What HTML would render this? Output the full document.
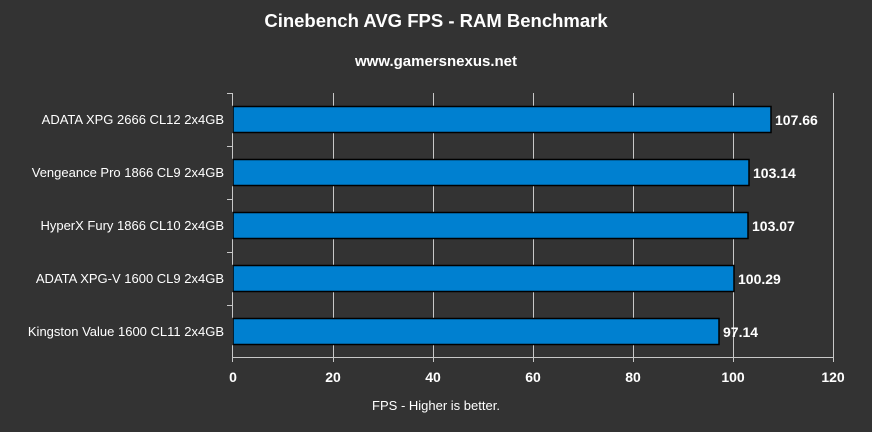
<!DOCTYPE html><html><head><style>body{margin:0;background:#333}</style></head><body>
<svg width="872" height="427" xmlns="http://www.w3.org/2000/svg" font-family="Liberation Sans, Arial, sans-serif">
<rect width="872" height="427" fill="#333"/>
<text x="436" y="27" fill="#fff" font-size="18.5" font-weight="bold" text-anchor="middle">Cinebench AVG FPS - RAM Benchmark</text>
<text x="436" y="66" fill="#fff" font-size="15" font-weight="bold" text-anchor="middle">www.gamersnexus.net</text>
<g stroke="#c8c8c8" stroke-width="1">
<line x1="333.5" y1="93" x2="333.5" y2="357"/><line x1="433.5" y1="93" x2="433.5" y2="357"/><line x1="533.5" y1="93" x2="533.5" y2="357"/><line x1="633.5" y1="93" x2="633.5" y2="357"/><line x1="733.5" y1="93" x2="733.5" y2="357"/><line x1="833.5" y1="93" x2="833.5" y2="357"/>
<line x1="232.5" y1="93" x2="232.5" y2="362"/><line x1="232" y1="357.5" x2="834" y2="357.5"/>
<line x1="227" y1="93.5" x2="233" y2="93.5"/><line x1="227" y1="146.5" x2="233" y2="146.5"/><line x1="227" y1="199.5" x2="233" y2="199.5"/><line x1="227" y1="252.5" x2="233" y2="252.5"/><line x1="227" y1="305.5" x2="233" y2="305.5"/>
<line x1="333.5" y1="357" x2="333.5" y2="362"/><line x1="433.5" y1="357" x2="433.5" y2="362"/><line x1="533.5" y1="357" x2="533.5" y2="362"/><line x1="633.5" y1="357" x2="633.5" y2="362"/><line x1="733.5" y1="357" x2="733.5" y2="362"/><line x1="833.5" y1="357" x2="833.5" y2="362"/>
</g>
<g fill="#0080d0" stroke="#000" stroke-width="1.5">
<rect x="233" y="106.5" width="538" height="26"/>
<rect x="233" y="159.5" width="516" height="26"/>
<rect x="233" y="212.5" width="515" height="26"/>
<rect x="233" y="265.5" width="501" height="26"/>
<rect x="233" y="318.5" width="486" height="26"/>
</g>
<g fill="#fff" font-size="14" font-weight="bold">
<text x="775" y="125">107.66</text><text x="753" y="178">103.14</text><text x="752" y="231">103.07</text><text x="738" y="284">100.29</text><text x="723" y="337">97.14</text>
</g>
<g fill="#fff" font-size="13" text-anchor="end">
<text x="224" y="124">ADATA XPG 2666 CL12 2x4GB</text><text x="224" y="177">Vengeance Pro 1866 CL9 2x4GB</text><text x="224" y="230">HyperX Fury 1866 CL10 2x4GB</text><text x="224" y="283">ADATA XPG-V 1600 CL9 2x4GB</text><text x="224" y="336">Kingston Value 1600 CL11 2x4GB</text>
</g>
<g fill="#fff" font-size="14" font-weight="bold" text-anchor="middle">
<text x="233" y="382">0</text><text x="333" y="382">20</text><text x="433" y="382">40</text><text x="533" y="382">60</text><text x="633" y="382">80</text><text x="733" y="382">100</text><text x="833" y="382">120</text>
</g>
<text x="436" y="410" fill="#fff" font-size="13" text-anchor="middle">FPS - Higher is better.</text>
</svg></body></html>
